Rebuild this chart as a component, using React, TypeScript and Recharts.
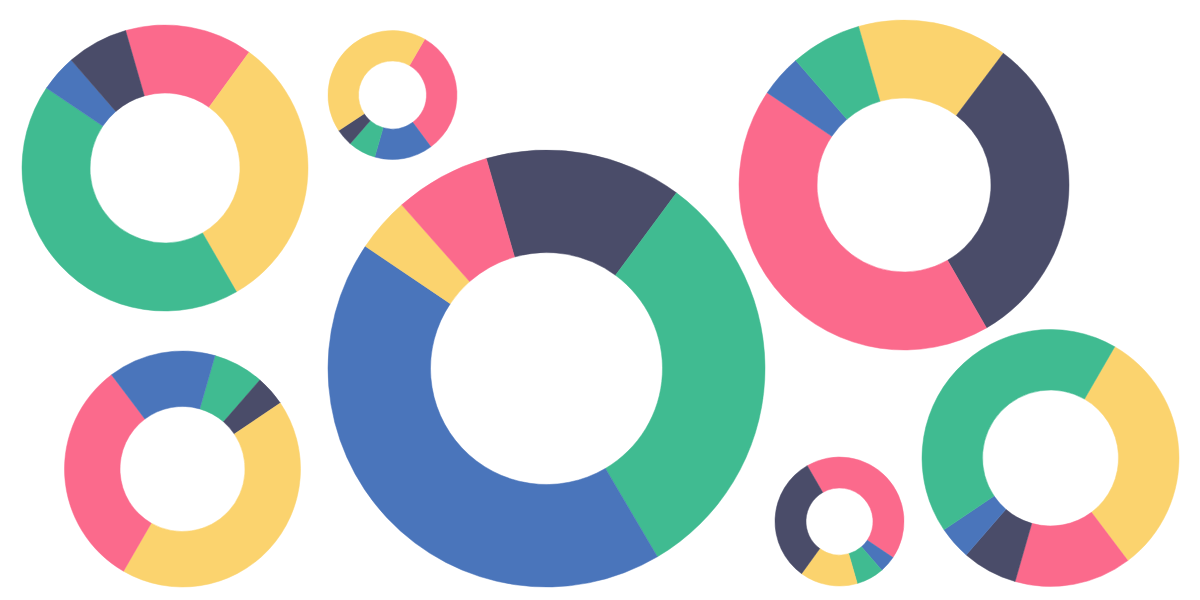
import React from 'react'
import { PieChart, Pie, Cell } from 'recharts'

const COLORS: Record<string, string> = {
  blue: '#4a75bb',
  green: '#40bb91',
  yellow: '#fbd36e',
  pink: '#fb6a8c',
  dark: '#4a4c69'
}

// slices listed clockwise, values in degrees of the ring
const topLeftColors = ['pink', 'yellow', 'green', 'blue', 'dark']
const topLeftValues = [52, 114, 154, 15, 25]

const smallTopColors = ['pink', 'blue', 'green', 'dark', 'yellow']
const smallTopValues = [113.5, 52.5, 25, 15.5, 153.5]

const bigColors = ['dark', 'green', 'blue', 'yellow', 'pink']
const bigValues = [52.5, 113, 154.5, 14.5, 25.5]

const topRightColors = ['yellow', 'dark', 'pink', 'blue', 'green']
const topRightValues = [53, 113, 154, 15, 25]

const bottomLeftColors = ['green', 'dark', 'yellow', 'pink', 'blue']
const bottomLeftValues = [25, 15, 154, 113, 53]

const smallBottomColors = ['pink', 'blue', 'green', 'yellow', 'dark']
const smallBottomValues = [154, 15, 25, 52, 114]

const bottomRightColors = ['yellow', 'pink', 'dark', 'blue', 'green']
const bottomRightValues = [113, 53, 25, 15, 154]

const build = (colors: string[], values: number[]) =>
  values.map((v, i) => ({ name: colors[i], value: v }))

// layout: centre, radii, and where the first slice starts (degrees clockwise from 12 o'clock)
const donuts = [
  { data: build(topLeftColors, topLeftValues), cx: 165, cy: 168, outer: 143, inner: 75, start: 344 },
  { data: build(smallTopColors, smallTopValues), cx: 392.5, cy: 95, outer: 64.5, inner: 34, start: 30 },
  { data: build(bigColors, bigValues), cx: 546.5, cy: 368.5, outer: 218.5, inner: 116, start: 344 },
  { data: build(topRightColors, topRightValues), cx: 904, cy: 185, outer: 165, inner: 87, start: 344 },
  { data: build(bottomLeftColors, bottomLeftValues), cx: 182.5, cy: 469, outer: 118, inner: 62.5, start: 16 },
  { data: build(smallBottomColors, smallBottomValues), cx: 839.5, cy: 521.5, outer: 64.5, inner: 33.5, start: 330 },
  { data: build(bottomRightColors, bottomRightValues), cx: 1050.5, cy: 458, outer: 128.5, inner: 68, start: 30 }
]

const App: React.FC = () => {
  return (
    <div style={{ position: 'absolute', left: 0, top: 0, width: 1200, height: 600, background: '#fff' }}>
      <PieChart width={1200} height={600} margin={{ top: 0, right: 0, bottom: 0, left: 0 }}>
        {donuts.map((d, k) => (
          <Pie
            key={k}
            data={d.data}
            dataKey="value"
            cx={d.cx}
            cy={d.cy}
            outerRadius={d.outer}
            innerRadius={d.inner}
            startAngle={90 - d.start}
            endAngle={90 - d.start - 360}
            isAnimationActive={false}
          >
            {d.data.map((s, i) => (
              <Cell key={i} fill={COLORS[s.name]} stroke={COLORS[s.name]} strokeWidth={0.5} />
            ))}
          </Pie>
        ))}
      </PieChart>
    </div>
  )
}

export default App
